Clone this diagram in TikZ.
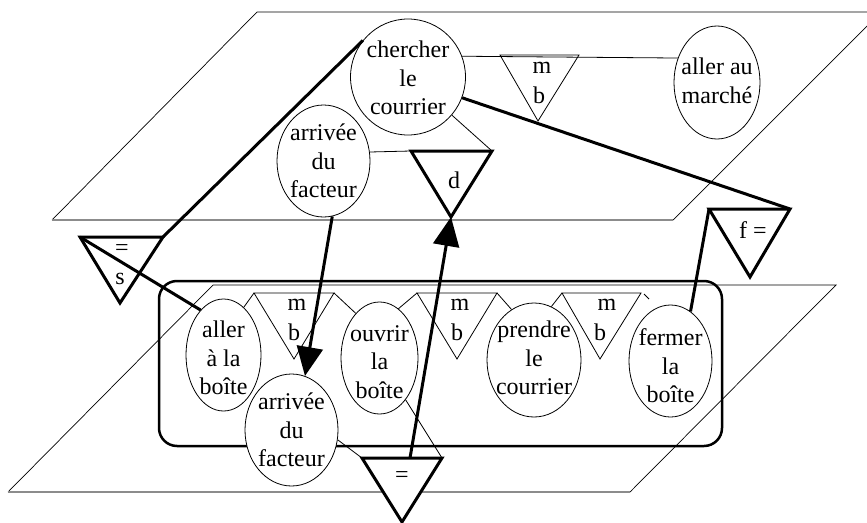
\documentclass[tikz,border=0pt]{standalone}
\usepackage{fontspec}
\setmainfont{Liberation Serif}
\usetikzlibrary{arrows.meta,shapes.geometric}
\begin{document}
\begin{tikzpicture}[x=1pt,y=-1pt,
  ell/.style={ellipse,draw,line width=0.8pt,fill=white,inner sep=0pt},
  txt/.style={font=\fontsize{24}{28.5}\selectfont,align=center,inner sep=0pt},
  lab/.style={font=\fontsize{24}{28.5}\selectfont,inner sep=0pt},
  thinline/.style={line width=0.8pt},
  thickline/.style={line width=3pt},
  tri/.style={draw,fill=white,line join=miter},
  plane/.style={line width=0.7pt},
  planebot/.style={line width=1.2pt,black!45},
  arr/.style={-{Triangle[length=29pt,width=26pt]}}
]
\clip (0,0) rectangle (867,522);
% planes
\draw[plane] (52,220) -- (257,12) -- (881,12) -- (673,220);
\draw[planebot] (52,220) -- (673,220);
\draw[plane] (8,492) -- (213,285) -- (836,285) -- (630,492);
\draw[planebot] (8,492) -- (630,492);
% group box
\draw[line width=2.5pt,rounded corners=18pt] (159,281) rectangle (722,446);

% ellipses
\node[ell,minimum width=115pt,minimum height=116pt] (cherch) at (408,77) {};
\node[ell,minimum width=86pt,minimum height=113pt] (marche) at (717,82.5) {};
\node[ell,minimum width=93pt,minimum height=112pt] (arrT) at (323.5,161) {};
\node[ell,minimum width=75pt,minimum height=112pt] (aller) at (223.5,355) {};
\node[ell,minimum width=77pt,minimum height=112pt] (ouvrir) at (379.5,358) {};
\node[ell,minimum width=93pt,minimum height=112pt] (arrL) at (291.5,430) {};
\node[ell,minimum width=94pt,minimum height=114pt] (prendre) at (534,360) {};
\node[ell,minimum width=83pt,minimum height=112pt] (fermer) at (670.5,361) {};

\node[txt] (cherch-t) at (408,78) {chercher\\le\\courrier};
\node[txt] (marche-t) at (717,81) {aller au\\marché};
\node[txt] (arrT-t) at (323.5,161) {arrivée\\du\\facteur};
\node[txt] (aller-t) at (223.5,358) {aller\\à la\\boîte};
\node[txt] (ouvrir-t) at (379.5,362) {ouvrir\\la\\boîte};
\node[txt] (arrL-t) at (291.5,430) {arrivée\\du\\facteur};
\node[txt] (prendre-t) at (534,358) {prendre\\le\\courrier};
\node[txt] (fermer-t) at (670.5,366) {fermer\\la\\boîte};

% triangle corners
\coordinate (mA1) at (500,55); \coordinate (mA2) at (579,55); \coordinate (mA3) at (538,121);
\coordinate (dA1) at (411,151); \coordinate (dA2) at (492,151); \coordinate (dA3) at (451,217);
\coordinate (fA1) at (709,209); \coordinate (fA2) at (790,209); \coordinate (fA3) at (750,277);
\coordinate (sA1) at (80,237); \coordinate (sA2) at (163,237); \coordinate (sA3) at (120,303);
\coordinate (tA1) at (254,293); \coordinate (tA2) at (334,293); \coordinate (tA3) at (294,359);
\coordinate (uA1) at (417,293); \coordinate (uA2) at (497,293); \coordinate (uA3) at (457,359);
\coordinate (vA1) at (562,293); \coordinate (vA2) at (641,293); \coordinate (vA3) at (600,359);
\coordinate (eA1) at (362,458); \coordinate (eA2) at (442,458); \coordinate (eA3) at (402,522);
\coordinate (eTop) at (410,458);
\coordinate (tick0) at (644,294); \coordinate (tick1) at (649,299);

% triangles
\draw[tri,thinline] (mA1) -- (mA2) -- (mA3) -- cycle;
\draw[tri,thickline] (dA1) -- (dA2) -- (dA3) -- cycle;
\draw[tri,thickline] (fA1) -- (fA2) -- (fA3) -- cycle;
\draw[tri,thickline] (sA1) -- (sA2) -- (sA3) -- cycle;
\draw[tri,thinline] (tA1) -- (tA2) -- (tA3) -- cycle;
\draw[tri,thinline] (uA1) -- (uA2) -- (uA3) -- cycle;
\draw[tri,thinline] (vA1) -- (vA2) -- (vA3) -- cycle;
\draw[tri,thickline] (eA1) -- (eA2) -- (eA3) -- cycle;

% triangle labels
\node[lab] (m0) at (542,68) {m};  \node[lab] (b0) at (539,95) {b};
\node[lab] (dl) at (454,180) {d};
\node[lab] (fl) at (753,230) {f =};
\node[lab] (sl1) at (122,250) {=}; \node[lab] (sl2) at (120,279) {s};
\node[lab] (m1) at (297,305) {m};  \node[lab] (b1) at (294,332) {b};
\node[lab] (m2) at (460,305) {m};  \node[lab] (b2) at (457,332) {b};
\node[lab] (m3) at (607,305) {m};  \node[lab] (b3) at (600,332) {b};
\node[lab] (el) at (402,477) {=};

% thin connectors
\draw[thinline] (cherch.21) -- (marche.148);
\draw[thinline] (cherch.-41) -- (dA2);
\draw[thinline] (arrT.11) -- (dA1);
\draw[thinline] (aller.67) -- (tA1);
\draw[thinline] (tA2) -- (ouvrir.118);
\draw[thinline] (ouvrir.69) -- (uA1);
\draw[thinline] (uA2) -- (prendre.114);
\draw[thinline] (prendre.72) -- (vA1);
\draw[thinline] (tick0) -- (tick1);
\draw[thinline] (arrL.-12) -- (eA1);
\draw[thinline] (ouvrir.-58) -- (eA2);

% thick connectors
\draw[thickline] (cherch.141) -- (sA2);
\draw[thickline] (sA1) -- (aller.117);
\draw[thickline] (cherch.-21) -- (fA2);
\draw[thickline] (fA1) -- (fermer.68);
\draw[thickline,arr] (arrT.-81) -- (arrL.76);
\draw[thickline,arr] (eTop) -- (dA3);
\end{tikzpicture}
\end{document}
